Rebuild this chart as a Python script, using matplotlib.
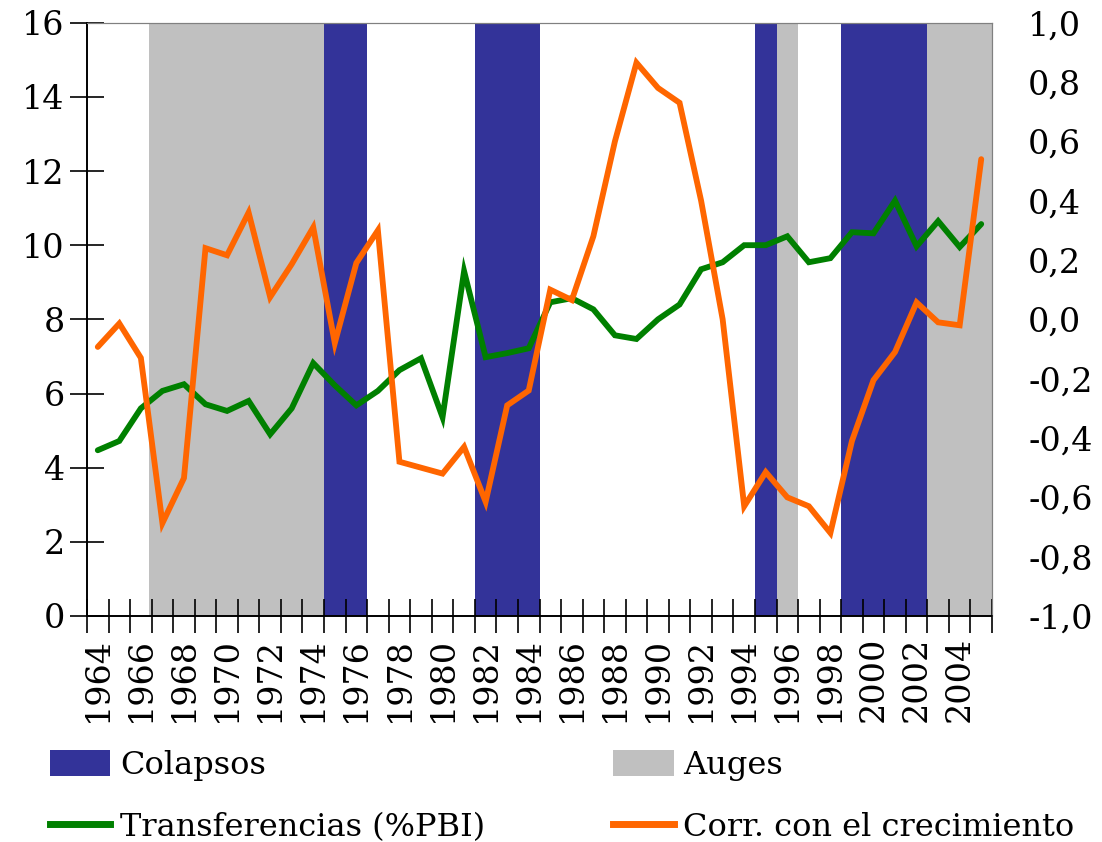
import matplotlib
matplotlib.use("Agg")
import matplotlib.pyplot as plt
from matplotlib.patches import Patch
from matplotlib.lines import Line2D
import numpy as np

years = list(range(1964, 2006))
transferencias = [4.47, 4.72, 5.6, 6.07, 6.25, 5.71, 5.53, 5.8, 4.9, 5.6, 6.82,
                  6.22, 5.68, 6.07, 6.63, 6.95, 5.36, 9.3, 6.98, 7.09, 7.22,
                  8.46, 8.57, 8.27, 7.57, 7.47, 8.0, 8.4, 9.35, 9.54, 10.0,
                  10.0, 10.24, 9.54, 9.65, 10.35, 10.32, 11.2, 9.97, 10.65,
                  9.95, 10.57]
correlacion = [-0.093, -0.014, -0.13, -0.687, -0.535, 0.24, 0.216, 0.36, 0.075,
               0.186, 0.31, -0.08, 0.19, 0.30, -0.48, -0.50, -0.52, -0.43,
               -0.615, -0.29, -0.24, 0.10, 0.065, 0.28, 0.60, 0.865, 0.78,
               0.73, 0.40, 0.0, -0.63, -0.515, -0.60, -0.63, -0.72, -0.41,
               -0.205, -0.11, 0.057, -0.01, -0.02, 0.54]
colapsos = [(1975, 1976), (1982, 1984), (1995, 1995), (1999, 2002)]
auges = [(1967, 1974), (1996, 1996), (2003, 2005)]

BLUE = "#333399"
GRAY = "#C0C0C0"
GREEN = "#008000"
ORANGE = "#FF6600"
FONT = "DejaVu Serif"

plt.rcParams["font.family"] = FONT
fig = plt.figure(figsize=(11.02, 8.42), dpi=100)
ax = fig.add_axes([87/1102, 1 - 616/842, (992-87)/1102, (616-22.7)/842])
ax2 = ax.twinx()

idx = {y: i for i, y in enumerate(years)}
for a, b in auges:
    ax.axvspan(idx[a] - 0.62, idx[b] + 0.5, color=GRAY, lw=0, zorder=0)
for a, b in colapsos:
    ax.axvspan(idx[a] - 0.5, idx[b] + 0.5, color=BLUE, lw=0, zorder=0)

x = np.arange(len(years))
ax.plot(x, transferencias, color=GREEN, lw=4.2, solid_capstyle="round",
        solid_joinstyle="miter", zorder=3)
ax2.plot(x, correlacion, color=ORANGE, lw=4.2, solid_capstyle="round",
         solid_joinstyle="miter", zorder=4)

ax.set_xlim(-0.5, len(years) - 0.5)
ax.set_ylim(0, 16)
ax2.set_ylim(-1, 1)
ax.set_yticks(np.arange(0, 17, 2))
ax.set_yticklabels([str(v) for v in range(0, 17, 2)], fontsize=24)
rt = np.round(np.arange(-1.0, 1.01, 0.2), 1)
ax2.set_yticks(rt)
ax2.set_yticklabels([f"{v:.1f}".replace(".", ",").replace("-0,0", "0,0") for v in rt],
                    fontsize=24)

ax.set_xticks(np.arange(-0.5, len(years), 1.0))
ax.set_xticklabels([])
ax.set_xticks(x, minor=True)
ax.set_xticklabels([str(y) if (y - 1964) % 2 == 0 else "" for y in years],
                   minor=True, rotation=90, fontsize=24)
ax.tick_params(axis="x", which="major", direction="inout", length=24, width=1.2, color="black")
ax.tick_params(axis="x", which="minor", length=0, pad=15)
ax.tick_params(axis="y", direction="inout", length=24, width=1.2, pad=4)
ax2.tick_params(axis="y", length=0, pad=26)

for a in (ax, ax2):
    a.spines["top"].set_color("#808080")
    a.spines["right"].set_color("#808080")
    a.spines["left"].set_linewidth(1.2)
    a.spines["bottom"].set_linewidth(1.2)
    a.set_facecolor("none")
ax.set_zorder(1)
ax2.set_zorder(2)

handles = [Patch(facecolor=BLUE, edgecolor="none"),
           Line2D([0], [0], color=GREEN, lw=5),
           Patch(facecolor=GRAY, edgecolor="none"),
           Line2D([0], [0], color=ORANGE, lw=5)]
labels = ["Colapsos", "Transferencias (%PBI)", "Auges", "Corr. con el crecimiento"]
fig.legend(handles, labels, loc="lower left", bbox_to_anchor=(0.022, -0.032),
           ncol=2, frameon=False, handlelength=1.9, handleheight=0.9,
           handletextpad=0.3, columnspacing=4.0, labelspacing=0.97,
           borderpad=0.3, prop={"family": FONT, "size": 23})

fig.savefig("out.png", dpi=100)
